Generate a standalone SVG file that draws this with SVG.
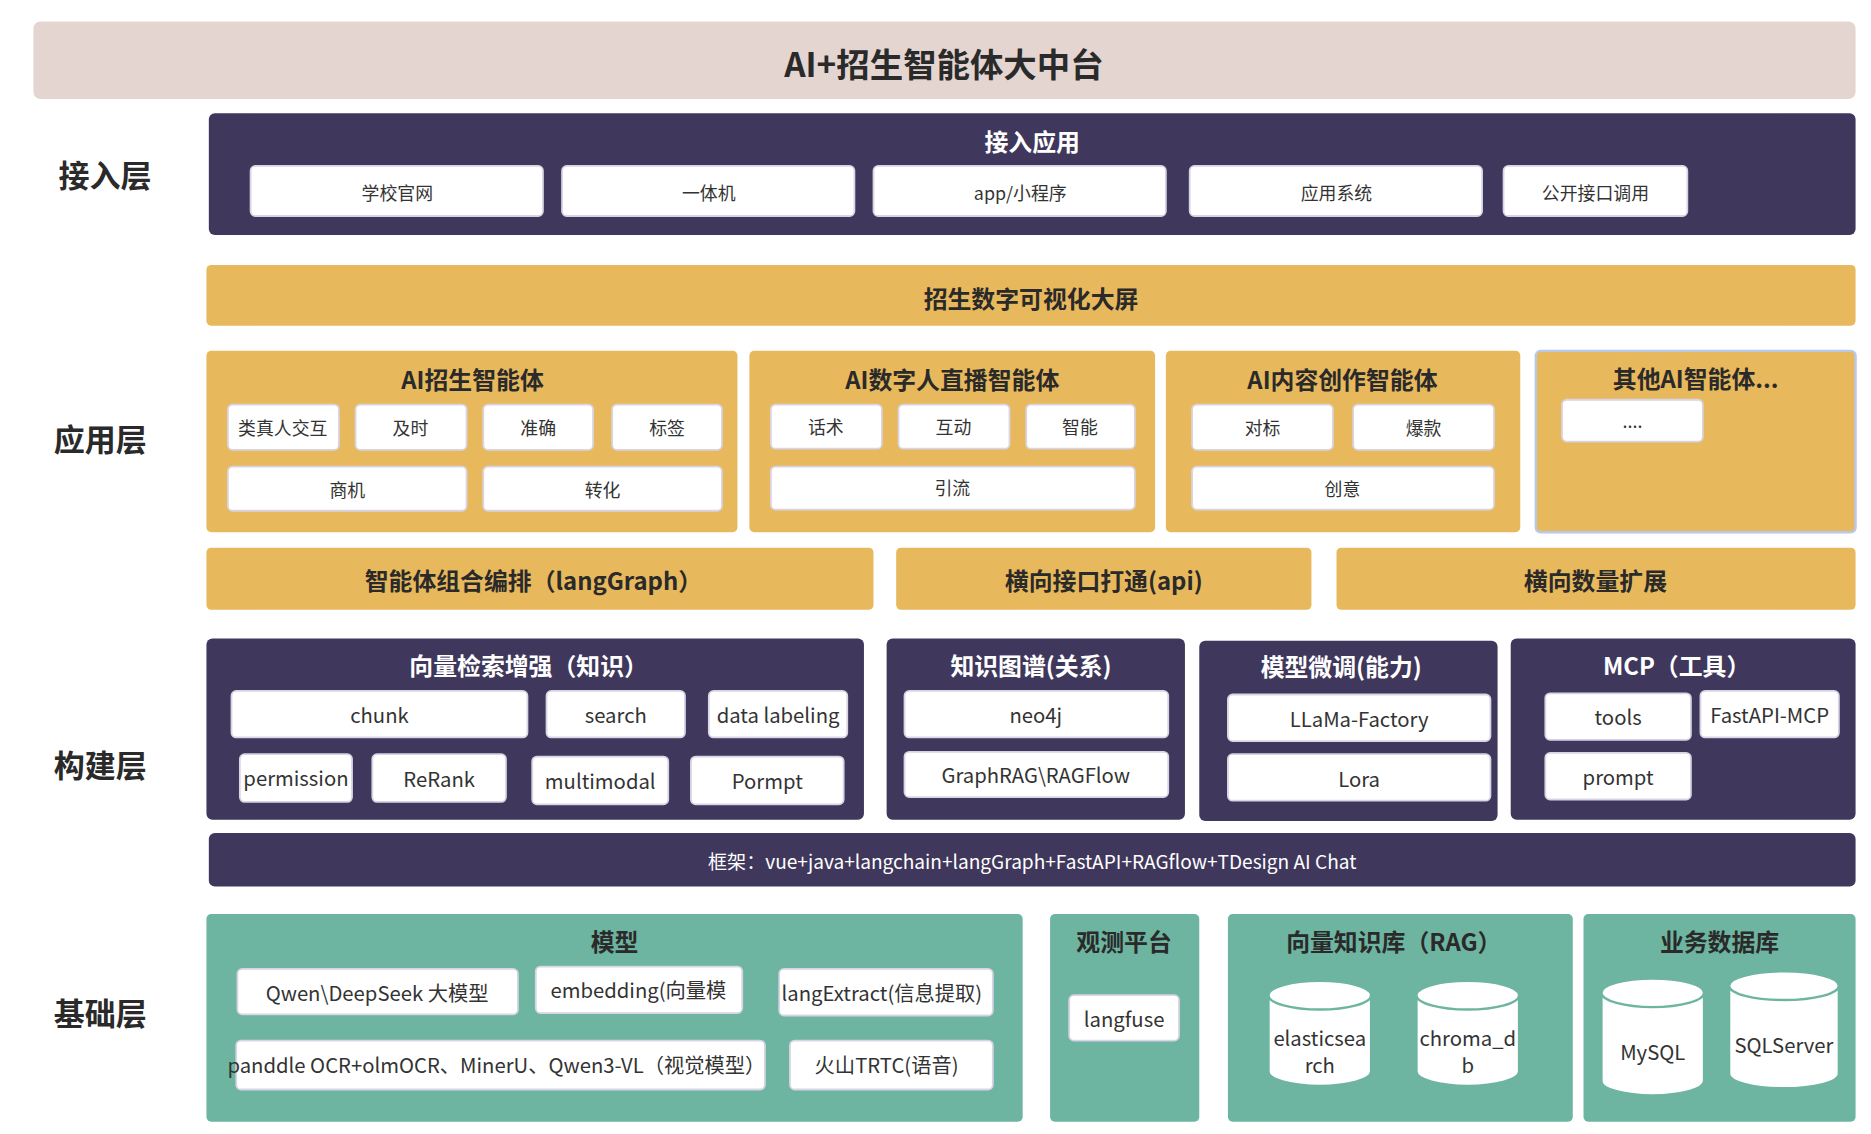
<svg xmlns="http://www.w3.org/2000/svg" width="1871" height="1134" viewBox="0 0 1871 1134">
<style>
text{font-family:"Noto Sans CJK SC","Noto Sans",sans-serif;text-anchor:middle;dominant-baseline:central}
.t{font-size:28px;font-weight:bold;fill:#2a2a2a}
.lay{font-size:26px;font-weight:bold;fill:#2a2a2a}
.dark{fill:#3f385c}
.gold{fill:#e8b85c}
.teal{fill:#6db5a0}
.h{font-size:20px;font-weight:bold;fill:#fff}
.hd{font-size:20px;font-weight:bold;fill:#2a2a2a}
.p{fill:#fff;stroke:#d8d4e4;stroke-width:1.5}
.s{font-size:15px;fill:#333}
.m{font-size:17px;fill:#333}
.cyl{fill:#fff;stroke:#6db5a0;stroke-width:2}
</style>
<rect width="1871" height="1134" fill="#fff"/>
<g transform="scale(1.1933)">
<g id="title"><rect x="28" y="18" width="1527" height="65" rx="6" fill="#e4d5d0"/><text class="t" x="791" y="52">AI+招生智能体大中台</text></g>
<g id="labels"><text class="lay" x="88" y="145">接入层</text><text class="lay" x="84" y="367">应用层</text><text class="lay" x="84" y="640">构建层</text><text class="lay" x="84" y="848">基础层</text></g>
<g id="access"><rect class="dark" x="175" y="95" width="1380" height="102" rx="5"/><text class="h" x="865" y="118">接入应用</text>
<rect class="p" x="210" y="139" width="245" height="42" rx="4"/><text class="s" x="333" y="161">学校官网</text>
<rect class="p" x="471" y="139" width="245" height="42" rx="4"/><text class="s" x="594" y="161">一体机</text>
<rect class="p" x="732" y="139" width="245" height="42" rx="4"/><text class="s" x="855" y="161">app/小程序</text>
<rect class="p" x="997" y="139" width="245" height="42" rx="4"/><text class="s" x="1120" y="161">应用系统</text>
<rect class="p" x="1260" y="139" width="154" height="42" rx="4"/><text class="s" x="1337" y="161">公开接口调用</text></g>
<g id="screen"><rect class="gold" x="173" y="222" width="1382" height="51" rx="4"/><text class="hd" x="864" y="249">招生数字可视化大屏</text></g>
<g id="app1"><rect class="gold" x="173" y="294" width="445" height="152" rx="4"/><text class="hd" x="396" y="317">AI招生智能体</text>
<rect class="p" x="191" y="339" width="93" height="38" rx="4"/><text class="s" x="237" y="358">类真人交互</text>
<rect class="p" x="298" y="339" width="93" height="38" rx="4"/><text class="s" x="344" y="358">及时</text>
<rect class="p" x="405" y="339" width="92" height="38" rx="4"/><text class="s" x="451" y="358">准确</text>
<rect class="p" x="513" y="339" width="92" height="38" rx="4"/><text class="s" x="559" y="358">标签</text>
<rect class="p" x="191" y="391" width="200" height="37" rx="4"/><text class="s" x="291" y="410">商机</text>
<rect class="p" x="405" y="391" width="200" height="37" rx="4"/><text class="s" x="505" y="410">转化</text></g>
<g id="app2"><rect class="gold" x="628" y="294" width="340" height="152" rx="4"/><text class="hd" x="798" y="317">AI数字人直播智能体</text>
<rect class="p" x="646" y="339" width="93" height="37" rx="4"/><text class="s" x="692" y="357">话术</text>
<rect class="p" x="753" y="339" width="93" height="37" rx="4"/><text class="s" x="799" y="357">互动</text>
<rect class="p" x="860" y="339" width="91" height="37" rx="4"/><text class="s" x="905" y="357">智能</text>
<rect class="p" x="646" y="391" width="305" height="36" rx="4"/><text class="s" x="798" y="408">引流</text></g>
<g id="app3"><rect class="gold" x="977" y="294" width="297" height="152" rx="4"/><text class="hd" x="1125" y="317">AI内容创作智能体</text>
<rect class="p" x="999" y="339" width="118" height="38" rx="4"/><text class="s" x="1058" y="358">对标</text>
<rect class="p" x="1134" y="339" width="118" height="38" rx="4"/><text class="s" x="1193" y="358">爆款</text>
<rect class="p" x="999" y="391" width="253" height="36" rx="4"/><text class="s" x="1125" y="409">创意</text></g>
<g id="app4"><rect class="gold" x="1287" y="294" width="268" height="152" rx="4" stroke="#b8c8ec" stroke-width="2"/><text class="hd" x="1421" y="316">其他AI智能体...</text>
<rect class="p" x="1309" y="335" width="118" height="35" rx="4"/><text class="s" x="1368" y="352">....</text></g>
<g id="bar1"><rect class="gold" x="173" y="459" width="559" height="52" rx="4"/><text class="hd" x="447" y="486">智能体组合编排（langGraph）</text></g>
<g id="bar2"><rect class="gold" x="751" y="459" width="348" height="52" rx="4"/><text class="hd" x="925" y="486">横向接口打通(api)</text></g>
<g id="bar3"><rect class="gold" x="1120" y="459" width="435" height="52" rx="4"/><text class="hd" x="1337" y="486">横向数量扩展</text></g>
<g id="rag"><rect class="dark" x="173" y="535" width="551" height="152" rx="5"/><text class="h" x="443" y="557">向量检索增强（知识）</text>
<rect class="p" x="194" y="579" width="248" height="39" rx="4"/><text class="m" x="318" y="598">chunk</text>
<rect class="p" x="458" y="579" width="116" height="39" rx="4"/><text class="m" x="516" y="598">search</text>
<rect class="p" x="594" y="579" width="116" height="39" rx="4"/><text class="m" x="652" y="598">data labeling</text>
<rect class="p" x="201" y="632" width="94" height="40" rx="4"/><text class="m" x="248" y="651">permission</text>
<rect class="p" x="312" y="632" width="112" height="40" rx="4"/><text class="m" x="368" y="652">ReRank</text>
<rect class="p" x="446" y="634" width="114" height="40" rx="4"/><text class="m" x="503" y="654">multimodal</text>
<rect class="p" x="579" y="634" width="128" height="40" rx="4"/><text class="m" x="643" y="654">Pormpt</text></g>
<g id="kg"><rect class="dark" x="743" y="535" width="250" height="152" rx="5"/><text class="h" x="864" y="557">知识图谱(关系)</text>
<rect class="p" x="758" y="579" width="221" height="39" rx="4"/><text class="m" x="868" y="598">neo4j</text>
<rect class="p" x="758" y="630" width="221" height="38" rx="4"/><text class="m" x="868" y="649">GraphRAG\RAGFlow</text></g>
<g id="ft"><rect class="dark" x="1005" y="537" width="250" height="151" rx="5"/><text class="h" x="1124" y="558">模型微调(能力)</text>
<rect class="p" x="1029" y="582" width="220" height="39" rx="4"/><text class="m" x="1139" y="602">LLaMa-Factory</text>
<rect class="p" x="1029" y="632" width="220" height="39" rx="4"/><text class="m" x="1139" y="652">Lora</text></g>
<g id="mcp"><rect class="dark" x="1266" y="535" width="289" height="152" rx="5"/><text class="h" x="1405" y="557">MCP（工具）</text>
<rect class="p" x="1295" y="581" width="122" height="39" rx="4"/><text class="m" x="1356" y="600">tools</text>
<rect class="p" x="1425" y="579" width="116" height="39" rx="4"/><text class="m" x="1483" y="598">FastAPI-MCP</text>
<rect class="p" x="1295" y="631" width="122" height="39" rx="4"/><text class="m" x="1356" y="650">prompt</text></g>
<g id="framework"><rect class="dark" x="175" y="698" width="1380" height="45" rx="5"/><text x="865" y="721" style="font-size:16px;fill:#fff">框架：vue+java+langchain+langGraph+FastAPI+RAGflow+TDesign AI Chat</text></g>
<g id="model"><rect class="teal" x="173" y="766" width="684" height="174" rx="4"/><text class="hd" x="515" y="788">模型</text>
<rect class="p" x="199" y="812" width="235" height="38" rx="4"/><text class="m" x="316" y="831">Qwen\DeepSeek 大模型</text>
<rect class="p" x="449" y="810" width="173" height="39" rx="4"/><text class="m" x="535" y="829">embedding(向量模</text>
<rect class="p" x="653" y="812" width="179" height="39" rx="4"/><text class="m" x="739" y="831">langExtract(信息提取)</text>
<rect class="p" x="198" y="872" width="443" height="41" rx="4"/><text class="m" x="416" y="892">panddle OCR+olmOCR、MinerU、Qwen3-VL（视觉模型）</text>
<rect class="p" x="662" y="872" width="170" height="41" rx="4"/><text class="m" x="743" y="892">火山TRTC(语音)</text></g>
<g id="obs"><rect class="teal" x="880" y="766" width="125" height="174" rx="4"/><text class="hd" x="942" y="788">观测平台</text>
<rect class="p" x="896" y="834" width="92" height="38" rx="4"/><text class="m" x="942" y="853">langfuse</text></g>
<g id="vec"><rect class="teal" x="1029" y="766" width="289" height="174" rx="4"/><text class="hd" x="1168" y="788">向量知识库（RAG）</text>
<path class="cyl" d="M1063 834v64a43 12 0 0 0 86 0v-64a43 12 0 0 0-86 0a43 12 0 0 0 86 0"/><text class="m" x="1106" y="869">elasticsea</text><text class="m" x="1106" y="892">rch</text>
<path class="cyl" d="M1187 834v64a43 12 0 0 0 86 0v-64a43 12 0 0 0-86 0a43 12 0 0 0 86 0"/><text class="m" x="1230" y="869">chroma_d</text><text class="m" x="1230" y="892">b</text></g>
<g id="biz"><rect class="teal" x="1327" y="766" width="228" height="174" rx="4"/><text class="hd" x="1441" y="788">业务数据库</text>
<path class="cyl" d="M1342 832v74a43 12 0 0 0 86 0v-74a43 12 0 0 0-86 0a43 12 0 0 0 86 0"/><text class="m" x="1385" y="881">MySQL</text>
<path class="cyl" d="M1449 826v74a46 12 0 0 0 92 0v-74a46 12 0 0 0-92 0a46 12 0 0 0 92 0"/><text class="m" x="1495" y="875">SQLServer</text></g>
<g id="connectors"/>
</g>
</svg>
